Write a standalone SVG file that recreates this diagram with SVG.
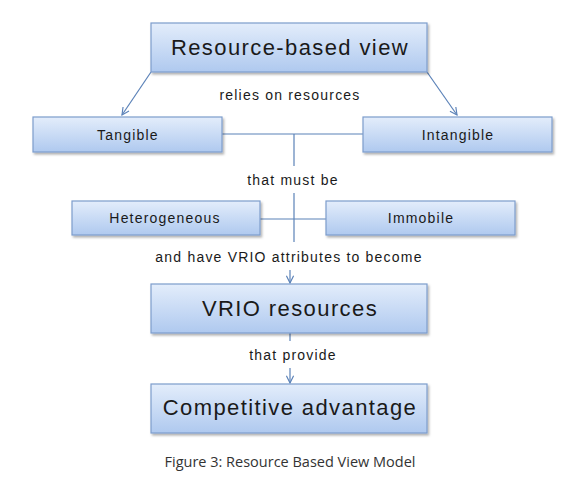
<svg xmlns="http://www.w3.org/2000/svg" width="579" height="481" viewBox="0 0 579 481">
<defs>
<linearGradient id="g" x1="0" y1="0" x2="0" y2="1">
<stop offset="0" stop-color="#e3edfb"/>
<stop offset="1" stop-color="#afc9ef"/>
</linearGradient>
<filter id="sh" x="-10%" y="-20%" width="125%" height="150%">
<feDropShadow dx="1.5" dy="2" stdDeviation="1.2" flood-color="#000" flood-opacity="0.3"/>
</filter>
<marker id="ar" viewBox="0 0 10 10" refX="9" refY="5" markerWidth="9" markerHeight="9" orient="auto" markerUnits="userSpaceOnUse">
<path d="M1,1 L9,5 L1,9" fill="none" stroke="#5b82b8" stroke-width="1.3"/>
</marker>
</defs>
<style>
.box{fill:url(#g);stroke:#7d9dcc;stroke-width:1.2;filter:url(#sh)}
.big{font-family:"Liberation Sans",Arial,sans-serif;font-size:22px;fill:#1a1a1a;text-anchor:middle;letter-spacing:1.4px}
.mid{font-family:"Liberation Sans",Arial,sans-serif;font-size:14px;fill:#1a1a1a;text-anchor:middle;letter-spacing:1.2px}
.lbl{font-family:"Liberation Sans",Arial,sans-serif;font-size:14px;fill:#1a1a1a;text-anchor:middle;letter-spacing:1.2px}
.ln{stroke:#5b82b8;stroke-width:1.2;fill:none}
.cap{font-family:"Open Sans","Noto Sans",sans-serif;font-size:14.5px;fill:#333;text-anchor:middle}
</style>
<rect width="579" height="481" fill="#fff"/>
<g id="connectors">
<line class="ln" x1="151" y1="72" x2="122" y2="115" marker-end="url(#ar)"/>
<line class="ln" x1="427" y1="72" x2="457" y2="115" marker-end="url(#ar)"/>
<line class="ln" x1="222" y1="134" x2="363" y2="134"/>
<line class="ln" x1="294" y1="134" x2="294" y2="166"/>
<line class="ln" x1="294" y1="193" x2="294" y2="242"/>
<line class="ln" x1="260" y1="219" x2="326" y2="219"/>
<line class="ln" x1="290" y1="270" x2="290" y2="283" marker-end="url(#ar)"/>
<line class="ln" x1="290" y1="333" x2="290" y2="341"/>
<line class="ln" x1="290" y1="368" x2="290" y2="383" marker-end="url(#ar)"/>
<text class="lbl" x="290" y="100">relies on resources</text>
<text class="lbl" x="293" y="185">that must be</text>
<text class="lbl" x="289" y="262">and have VRIO attributes to become</text>
<text class="lbl" x="293" y="360">that provide</text>
</g>
<g id="rbv">
<rect class="box" x="151" y="23" width="276" height="49"/>
<text class="big" x="290" y="55">Resource-based view</text>
</g>
<g id="tangible">
<rect class="box" x="33" y="117" width="189" height="35"/>
<text class="mid" x="128" y="140">Tangible</text>
</g>
<g id="intangible">
<rect class="box" x="363" y="117" width="189" height="35"/>
<text class="mid" x="458" y="140">Intangible</text>
</g>
<g id="heterogeneous">
<rect class="box" x="72" y="201" width="188" height="34"/>
<text class="mid" x="165" y="223">Heterogeneous</text>
</g>
<g id="immobile">
<rect class="box" x="326" y="201" width="189" height="34"/>
<text class="mid" x="421" y="223">Immobile</text>
</g>
<g id="vrio">
<rect class="box" x="151" y="284" width="276" height="49"/>
<text class="big" x="290" y="316">VRIO resources</text>
</g>
<g id="competitive">
<rect class="box" x="151" y="384" width="276" height="49"/>
<text class="big" x="290" y="415">Competitive advantage</text>
</g>
<text class="cap" x="290" y="467">Figure 3: Resource Based View Model</text>
</svg>
